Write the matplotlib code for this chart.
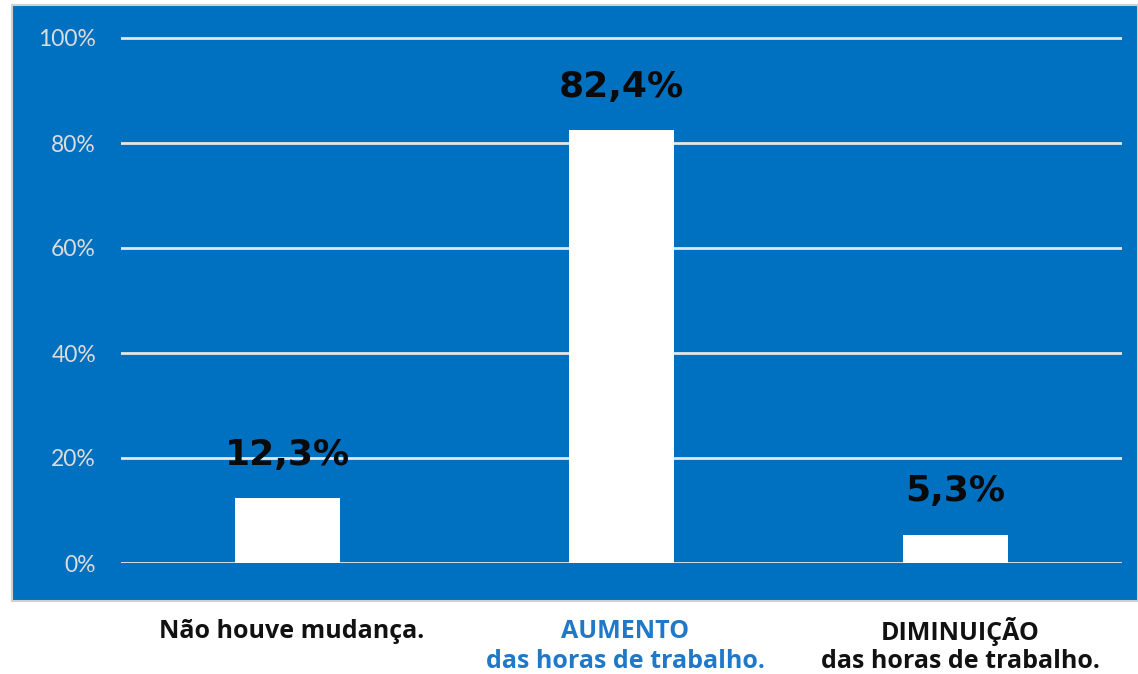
import matplotlib
matplotlib.use("Agg")
import matplotlib.pyplot as plt
from matplotlib.patches import Rectangle

categories = ["Não houve mudança.", "AUMENTO\ndas horas de trabalho.", "DIMINUIÇÃO\ndas horas de trabalho."]
values = [0.123, 0.824, 0.053]
value_labels = ["12,3%", "82,4%", "5,3%"]
yticks = [0.0, 0.2, 0.4, 0.6, 0.8, 1.0]
ytick_labels = ["0%", "20%", "40%", "60%", "80%", "100%"]
cat_colors = ["#111111", "#1f78c8", "#111111"]

W, H = 1138, 674
fig = plt.figure(figsize=(W / 100, H / 100), dpi=100)
fig.patch.set_facecolor("white")

blue = "#0070C0"
panel = Rectangle((12 / W, 1 - 601 / H), 1 - 12 / W, (601 - 5) / H,
                  transform=fig.transFigure, facecolor=blue, edgecolor="#d0d0d0",
                  linewidth=1.5, zorder=-5)
fig.patches.append(panel)

ymax = 1.05
px0, px1 = 121, 1122
py0 = 563
py_top = 563 - 525 * ymax
ax = fig.add_axes([px0 / W, 1 - py0 / H, (px1 - px0) / W, (py0 - py_top) / H])
ax.set_zorder(2)
ax.patch.set_visible(False)
ax.set_xlim(-0.5, 2.5)
ax.set_ylim(0, ymax)
for s in ax.spines.values():
    s.set_visible(False)

ax.set_yticks(yticks)
ax.set_yticklabels(ytick_labels, fontfamily="Lato", fontsize=16.5, color="#dcdcdc")
ax.tick_params(axis="y", length=0, pad=18)
ax.set_xticks([])
ax.yaxis.grid(True, color="#e6e6e6", linewidth=2)
ax.set_axisbelow(True)

x = list(range(len(categories)))
bars = ax.bar(x, values, width=0.315, color="white", zorder=3)
for xi, v, lab in zip(x, values, value_labels):
    ax.annotate(lab, (xi, v), xytext=(0, 31.5), textcoords="offset points",
                ha="center", va="center", fontsize=26, fontweight="bold",
                fontfamily="DejaVu Sans", color="#0a0a0a", zorder=4)

centers_px = [292, 625, 960]
line_y = [631, 662]
for cx, cat, col in zip(centers_px, categories, cat_colors):
    for ly, line in zip(line_y, cat.split("\n")):
        fig.text(cx / W, 1 - ly / H, line, ha="center", va="center", fontsize=18,
                 fontweight="bold", fontfamily="Open Sans", color=col)

fig.savefig("out.png", dpi=100)
